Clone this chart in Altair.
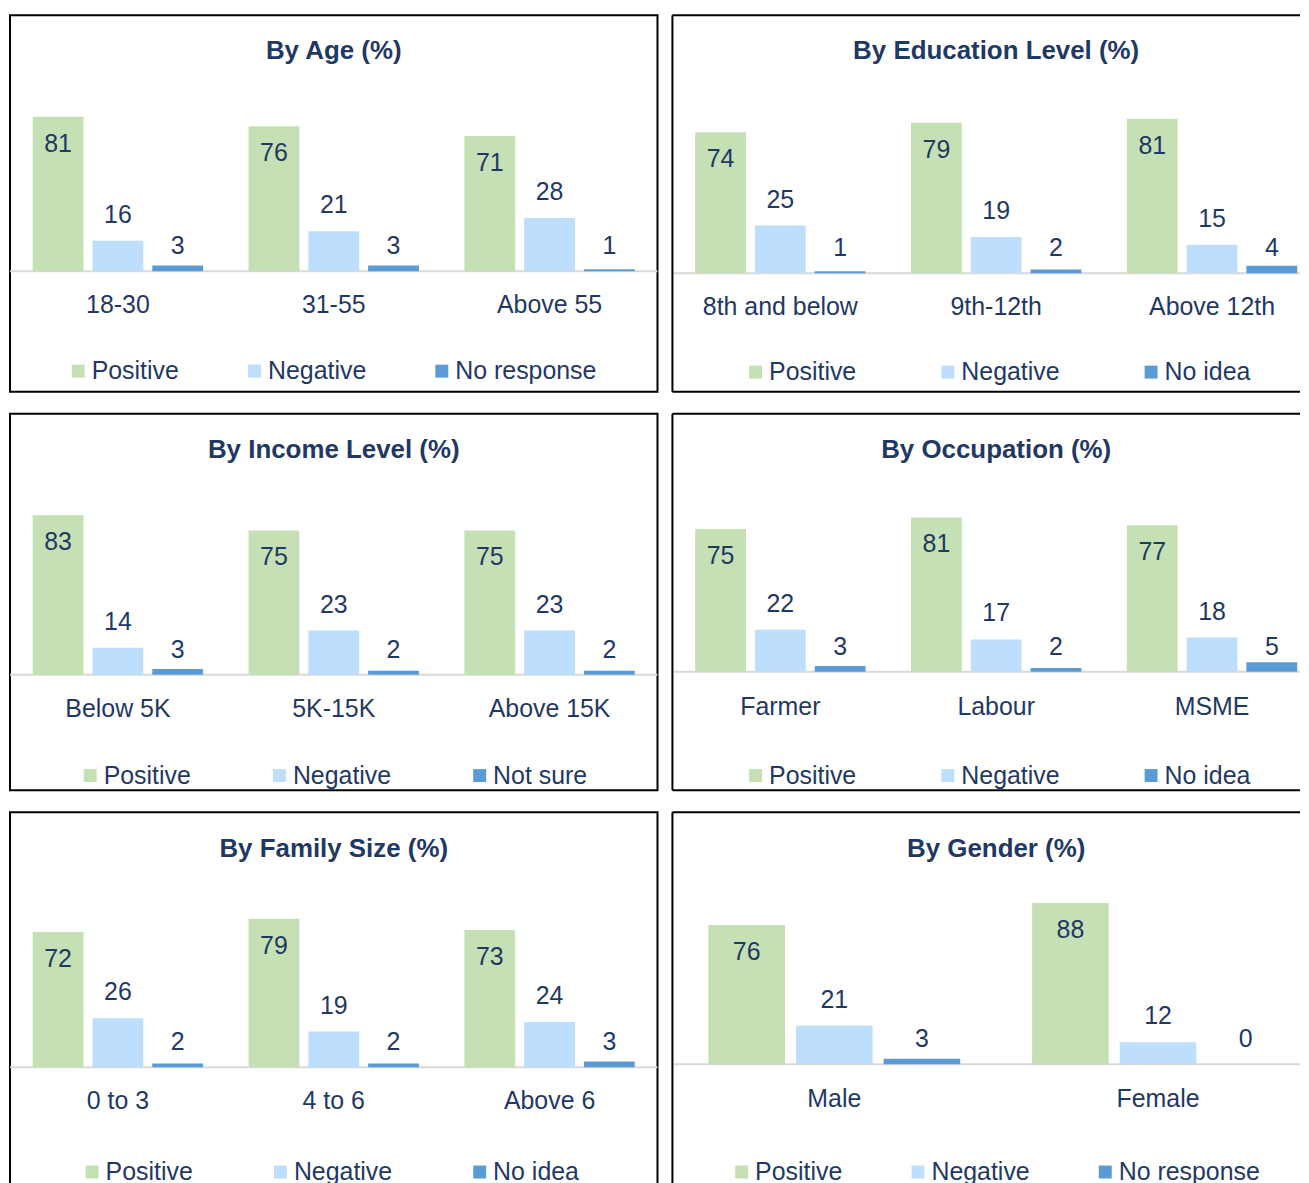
import altair as alt
import pandas as pd

# ---------------- data ----------------
titles = [
    "By Age (%)",
    "By Education Level (%)",
    "By Income Level (%)",
    "By Occupation (%)",
    "By Family Size (%)",
    "By Gender (%)",
]
categories = [
    ["18-30", "31-55", "Above 55"],
    ["8th and below", "9th-12th", "Above 12th"],
    ["Below 5K", "5K-15K", "Above 15K"],
    ["Farmer", "Labour", "MSME"],
    ["0 to 3", "4 to 6", "Above 6"],
    ["Male", "Female"],
]
third_names = ["No response", "No idea", "Not sure", "No idea", "No idea", "No response"]
positive = [
    [81, 76, 71],
    [74, 79, 81],
    [83, 75, 75],
    [75, 81, 77],
    [72, 79, 73],
    [76, 88],
]
negative = [
    [16, 21, 28],
    [25, 19, 15],
    [14, 23, 23],
    [22, 17, 18],
    [26, 19, 24],
    [21, 12],
]
third = [
    [3, 3, 1],
    [1, 2, 4],
    [3, 2, 2],
    [3, 2, 5],
    [2, 2, 3],
    [3, 0],
]

# ---------------- styling / layout ----------------
FONT = "Liberation Sans"
TEXT = "#1F3864"
COLORS = ["#C5E0B4", "#BDDEFC", "#5B9BD5"]
W_LEFT, W_RIGHT, H = 650, 630, 378
BAND_W = 650
baseline_px = [257, 259, 262, 259, 256, 253]
px_per_unit = [1.914, 1.914, 1.93, 1.91, 1.886, 1.84]
legend_pad = [63, 79, 76, 79, 75, 63]
legend_x = [56, 71, 68, 71, 70, 57]
legend_cy = [354, 355, 360, 360, 358, 358]
cat_y = [291, 293, 296, 294, 290, 288]
title_y = [36, 36, 36, 36, 37, 37]
pad_inner = [0.15, 0.15, 0.15, 0.15, 0.15, 0.125]
pad_outer = [0.38, 0.38, 0.38, 0.38, 0.38, 0.41]


def panel(i):
    cats = categories[i]
    names = ["Positive", "Negative", third_names[i]]
    right = i % 2 == 1
    width = W_RIGHT if right else W_LEFT
    rows = []
    for j, c in enumerate(cats):
        for s, vals in zip(names, [positive[i], negative[i], third[i]]):
            rows.append({"cat": c, "series": s, "value": vals[j]})
    df = pd.DataFrame(rows)
    k = px_per_unit[i]
    b = baseline_px[i]
    ydom = [-(H - b) / k, b / k]
    yscale = alt.Scale(domain=ydom, nice=False, zero=False)

    x = alt.X("cat:N", sort=cats, axis=None,
              scale=alt.Scale(paddingInner=0, paddingOuter=0, range=[0, BAND_W]))
    xo = alt.XOffset("series:N", sort=names,
                     scale=alt.Scale(paddingInner=pad_inner[i], paddingOuter=pad_outer[i]))
    y = alt.Y("value:Q", axis=None, scale=yscale)

    base = alt.Chart(df)
    one = alt.Chart(pd.DataFrame({"z": [0]}))

    rule = one.mark_rule(color="#D9D9D9", strokeWidth=2).encode(
        y=alt.Y("z:Q", scale=yscale, axis=None), x=alt.value(0), x2=alt.value(width))

    bars = base.mark_bar().encode(
        x=x, xOffset=xo, y=y, y2=alt.datum(0),
        color=alt.Color(
            "series:N",
            scale=alt.Scale(domain=names, range=COLORS),
            legend=alt.Legend(
                orient="none", legendX=legend_x[i], legendY=legend_cy[i] - 9.5,
                direction="horizontal", title=None, symbolType="square",
                symbolSize=169, symbolStrokeWidth=0, labelFontSize=25,
                labelFont=FONT, labelColor=TEXT, columnPadding=legend_pad[i],
                labelOffset=1, labelLimit=400, padding=0,
            ),
        ),
    )

    txt = dict(font=FONT, fontSize=25, color=TEXT, baseline="middle")
    pos_text = base.transform_filter(alt.datum.series == "Positive").mark_text(
        dy=27, **txt).encode(x=x, xOffset=xo, y=y, text="value:Q")
    neg_text = base.transform_filter(alt.datum.series == "Negative").mark_text(
        dy=-26, **txt).encode(x=x, xOffset=xo, y=y, text="value:Q")
    thr_text = base.transform_filter(alt.datum.series == names[2]).mark_text(
        dy=-25, **txt).encode(x=x, xOffset=xo, y=alt.datum(0), text="value:Q")

    cat_text = base.transform_filter(alt.datum.series == "Positive").mark_text(
        **txt).encode(x=x, y=alt.value(cat_y[i]), text="cat:N")

    title = alt.Chart(pd.DataFrame({"t": [titles[i]]})).mark_text(
        font=FONT, fontSize=26, fontWeight="bold", color=TEXT, baseline="middle"
    ).encode(x=alt.value(BAND_W / 2), y=alt.value(title_y[i]), text="t:N")

    layers = [rule, bars, pos_text, neg_text, thr_text, cat_text, title]
    props = dict(width=width, height=H)
    if right:
        # panel continues past the page edge: border on left, top and bottom only
        border = dict(color="black", strokeWidth=2)
        layers += [
            one.mark_rule(**border).encode(x=alt.value(0), x2=alt.value(width), y=alt.value(0)),
            one.mark_rule(**border).encode(x=alt.value(0), x2=alt.value(width), y=alt.value(H)),
            one.mark_rule(**border).encode(x=alt.value(0), y=alt.value(0), y2=alt.value(H)),
        ]
        props["view"] = alt.ViewBackground(stroke=None)
    return alt.layer(*layers).properties(**props)


RES = dict(color="independent", x="independent", y="independent", xOffset="independent")

rows = []
for r in range(3):
    rows.append(
        alt.hconcat(panel(2 * r), panel(2 * r + 1), spacing=12)
        .resolve_scale(**RES)
        .resolve_legend(color="independent")
    )

chart = (
    alt.vconcat(*rows, spacing=20)
    .resolve_scale(**RES)
    .resolve_legend(color="independent")
    .properties(padding={"left": 0, "top": 4, "right": 0, "bottom": 0})
    .configure_view(stroke="black", strokeWidth=2)
)

chart.save("out.html", embed_options={"renderer": "svg", "actions": False})
